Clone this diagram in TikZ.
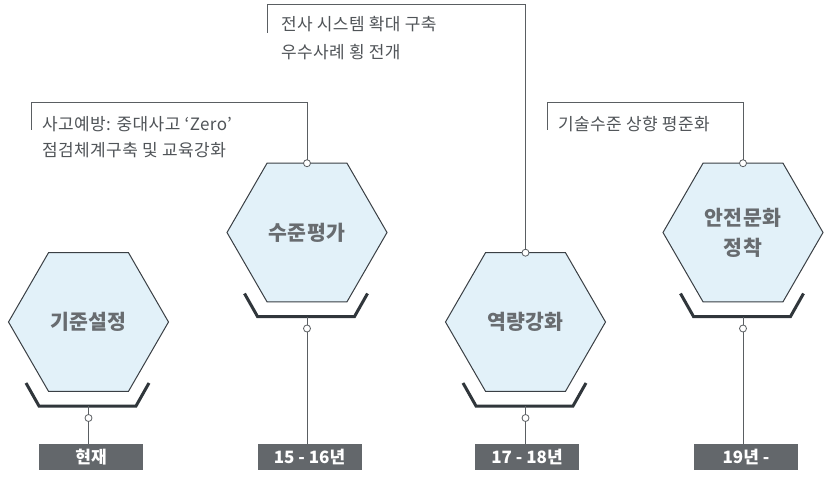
\documentclass[tikz,border=0pt]{standalone}
\usepackage{fontspec}
\setmainfont{Noto Sans CJK KR}
\newfontfamily\calloutfont[LetterSpace=2.5]{Noto Sans CJK KR}
\newfontfamily\hexfont[LetterSpace=2]{Noto Sans CJK KR}
\usetikzlibrary{shapes.geometric,calc}
\definecolor{hexfill}{HTML}{E2F1F9}
\definecolor{hexline}{HTML}{3A3F44}
\definecolor{brk}{HTML}{30363B}
\definecolor{lnc}{HTML}{5A5E62}
\definecolor{boxc}{HTML}{63676B}
\definecolor{txt}{HTML}{505458}
\definecolor{lbl}{HTML}{686C70}
\begin{document}
\begin{tikzpicture}[x=1pt,y=-1pt,
  hexnode/.style={regular polygon, regular polygon sides=6, minimum size=160pt,
    inner sep=0pt, outer sep=0pt, draw=hexline, line width=1pt, fill=hexfill,
    text=lbl, font=\hexfont\fontsize{20.5}{30}\selectfont\bfseries, align=center},
  bracket/.style={draw=brk, line width=3pt},
  dot/.style={circle, draw=lnc, fill=white, line width=0.8pt, minimum size=7pt, inner sep=0pt, outer sep=0pt},
  cl/.style={draw=lnc, line width=0.9pt},
  yearbox/.style={fill=boxc, text=white, minimum width=104pt, minimum height=26pt,
    inner sep=0pt, outer sep=0pt, font=\fontsize{17}{18}\selectfont\bfseries},
  ctext/.style={text=txt, inner sep=0pt, outer sep=0pt, font=\calloutfont\fontsize{17}{18}\selectfont, anchor=base west}]
\useasboundingbox (0,0) rectangle (829,481);
\fill[white] (0,0) rectangle (829,481);

% hexagons
\node[hexnode] (h1) at (88.5,322) {기준설정};
\node[hexnode] (h2) at (307,232.5) {수준평가};
\node[hexnode] (h3) at (525.5,322) {역량강화};
\node[hexnode] (h4) at (743,232.5) {안전문화\\정착};

% brackets
\foreach \h in {h1,h2,h3,h4}{
  \draw[bracket] ($(\h.center)+(-62.5,61)$) -- ++(13,23) -- ++(97,0) -- ++(13,-23);
  \coordinate (b\h) at ($(\h.center)+(0,84)$);
  \node[dot] (d\h) at ($(\h.center)+(0,96)$) {};
}

% year boxes
\node[yearbox] (t1) at (91,457) {현재};
\node[yearbox] (t2) at (309.5,457) {15 - 16년};
\node[yearbox] (t3) at (527,457) {17 - 18년};
\node[yearbox] (t4) at (746,457) {19년 -};

\draw[cl] (bh1) -- (dh1.north);
\draw[cl] (dh1.south) -- (dh1.south |- t1.north);
\draw[cl] (bh2) -- (dh2.north);
\draw[cl] (dh2.south) -- (dh2.south |- t2.north);
\draw[cl] (bh3) -- (dh3.north);
\draw[cl] (dh3.south) -- (dh3.south |- t3.north);
\draw[cl] (bh4) -- (dh4.north);
\draw[cl] (dh4.south) -- (dh4.south |- t4.north);

% top dots
\node[dot] (u2) at (h2.north) {};
\node[dot] (u3) at (h3.north) {};
\node[dot] (u4) at (h4.north) {};

% callouts
\coordinate (k1) at (31,130);
\coordinate (k2) at (267,33);
\coordinate (k3) at (547,130);
\draw[cl] (u2.north) -- (u2.north |- 0,102) -| (k1);
\draw[cl] (u3.north) -- (u3.north |- 0,4) -| (k2);
\draw[cl] (u4.north) -- (u4.north |- 0,102) -| (k3);

\node[ctext] (c1a) at (42,131) {사고예방: 중대사고 ‘Zero’};
\node[ctext] (c1b) at (42,157) {점검체계구축 및 교육강화};
\node[ctext] (c2a) at (281,31) {전사 시스템 확대 구축};
\node[ctext] (c2b) at (281,59) {우수사례 횡 전개};
\node[ctext] (c3a) at (558,131) {기술수준 상향 평준화};
\end{tikzpicture}
\end{document}
